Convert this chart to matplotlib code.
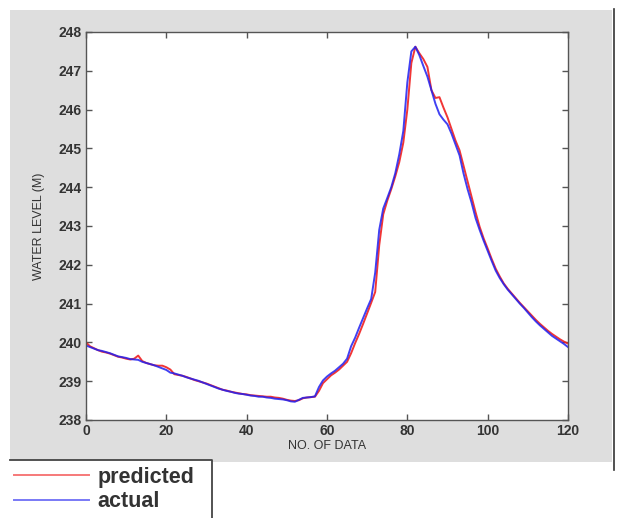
import matplotlib
matplotlib.use("Agg")
import matplotlib.pyplot as plt
from matplotlib.patches import Rectangle
from matplotlib.lines import Line2D
import numpy as np

plt.rcParams['font.family'] = ['Liberation Sans', 'DejaVu Sans']

# data: sample index 0..120
n_data = list(range(0, 121))

actual = [
    239.92, 239.88, 239.84, 239.80, 239.78, 239.75, 239.72, 239.68, 239.64, 239.62,
    239.60, 239.57, 239.56, 239.55, 239.50, 239.47, 239.44, 239.41, 239.37, 239.33,
    239.29, 239.22, 239.20, 239.17, 239.14, 239.10, 239.07, 239.04, 239.01, 238.97,
    238.93, 238.89, 238.85, 238.81, 238.78, 238.75, 238.73, 238.70, 238.68, 238.67,
    238.65, 238.63, 238.62, 238.60, 238.60, 238.58, 238.57, 238.55, 238.54, 238.53,
    238.51, 238.48, 238.47, 238.52, 238.57, 238.58, 238.59, 238.61, 238.85, 239.02,
    239.12, 239.20, 239.27, 239.36, 239.45, 239.58, 239.90, 240.12, 240.38, 240.63,
    240.88, 241.12, 241.80, 242.90, 243.45, 243.72, 244.00, 244.36, 244.85, 245.45,
    246.70, 247.50, 247.62, 247.40, 247.12, 246.85, 246.50, 246.15, 245.88, 245.74,
    245.62, 245.38, 245.10, 244.82, 244.35, 243.95, 243.60, 243.20, 242.90, 242.62,
    242.36, 242.10, 241.85, 241.66, 241.50, 241.36, 241.24, 241.12, 241.00, 240.89,
    240.77, 240.65, 240.54, 240.44, 240.35, 240.26, 240.17, 240.10, 240.03, 239.96,
    239.88,
]

predicted = [
    240.00, 239.90, 239.85, 239.80, 239.76, 239.74, 239.71, 239.67, 239.63, 239.61,
    239.58, 239.56, 239.58, 239.66, 239.52, 239.47, 239.44, 239.41, 239.40, 239.40,
    239.36, 239.30, 239.18, 239.16, 239.14, 239.11, 239.07, 239.03, 239.00, 238.97,
    238.94, 238.90, 238.86, 238.82, 238.78, 238.76, 238.73, 238.71, 238.69, 238.67,
    238.66, 238.64, 238.63, 238.62, 238.61, 238.60, 238.60, 238.58, 238.57, 238.55,
    238.52, 238.50, 238.49, 238.51, 238.56, 238.58, 238.59, 238.60, 238.75, 238.95,
    239.05, 239.15, 239.22, 239.30, 239.40, 239.50, 239.72, 239.98, 240.22, 240.48,
    240.75, 241.02, 241.30, 242.50, 243.30, 243.65, 243.95, 244.28, 244.65, 245.15,
    246.00, 247.20, 247.62, 247.45, 247.30, 247.10, 246.50, 246.30, 246.32, 246.05,
    245.80, 245.50, 245.20, 244.95, 244.55, 244.15, 243.75, 243.35, 242.98, 242.68,
    242.42, 242.15, 241.90, 241.70, 241.52, 241.38, 241.26, 241.14, 241.02, 240.91,
    240.80, 240.69, 240.58, 240.48, 240.39, 240.30, 240.22, 240.15, 240.08, 240.02,
    239.97,
]

x_ticks = [0, 20, 40, 60, 80, 100, 120]
y_ticks = [238, 239, 240, 241, 242, 243, 244, 245, 246, 247, 248]
legend_labels = ['predicted', 'actual']

W, H = 619, 518
fig = plt.figure(figsize=(W / 100, H / 100), dpi=100, facecolor='white')

def fx(px):
    return px / W

def fy(py):
    return (H - py) / H

# grey panel behind the axes
fig.add_artist(Rectangle((fx(10), fy(462)), fx(612) - fx(10), fy(10) - fy(462),
                         transform=fig.transFigure, facecolor='#dedede',
                         edgecolor='none', zorder=0))
fig.add_artist(Line2D([fx(614), fx(614)], [fy(470), fy(9)],
                      transform=fig.transFigure, color='#333333', lw=1.2))

ax = fig.add_axes([fx(86), fy(420), fx(568) - fx(86), fy(32) - fy(420)])
ax.set_facecolor('white')

ax.plot(n_data, predicted, color='#f02020', lw=1.4, label=legend_labels[0], alpha=0.9)
ax.plot(n_data, actual, color='#2020f0', lw=1.4, label=legend_labels[1], alpha=0.85)

ax.set_xlim(0, 120)
ax.set_ylim(238, 248)
ax.set_xticks(x_ticks)
ax.set_yticks(y_ticks)
ax.tick_params(direction='in', top=True, right=True, length=4, width=1,
               color='#555555', labelsize=10, labelcolor='#333333', pad=3)
for lab in ax.get_xticklabels() + ax.get_yticklabels():
    lab.set_fontweight('bold')
for sp in ax.spines.values():
    sp.set_color('#555555')
    sp.set_linewidth(1.0)

ax.set_xlabel('NO. OF DATA', fontsize=9, color='#333333', labelpad=1)
ax.set_ylabel('WATER LEVEL (M)', fontsize=9, color='#333333', labelpad=10)

# legend box (clipped by the image bottom in the reference)
fig.add_artist(Rectangle((fx(10), fy(520)), fx(212) - fx(10), fy(460) - fy(520),
                         transform=fig.transFigure, facecolor='white',
                         edgecolor='none', zorder=2))
fig.add_artist(Line2D([fx(10), fx(212), fx(212)], [fy(460), fy(460), fy(520)],
                      transform=fig.transFigure, color='#444444', lw=1.3, zorder=3))

leg = fig.legend(handles=ax.get_lines(), labels=legend_labels,
                 loc='upper left', bbox_to_anchor=(fx(14), fy(467)),
                 bbox_transform=fig.transFigure, frameon=False,
                 fontsize=15.5, handlelength=3.5, handletextpad=0.37,
                 borderpad=0.0, labelspacing=0.15, borderaxespad=0)
leg.set_zorder(4)
for t in leg.get_texts():
    t.set_fontweight('bold')
    t.set_color('#333333')
for l in leg.get_lines():
    l.set_alpha(0.6)

fig.savefig('out.png', dpi=100, facecolor='white')
